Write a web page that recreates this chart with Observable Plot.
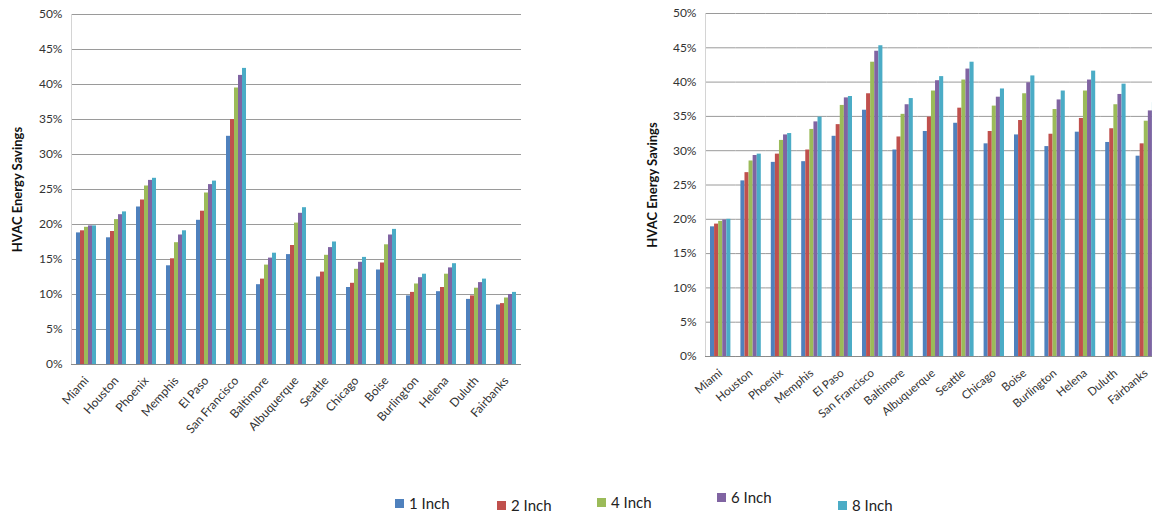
<!DOCTYPE html>
<html>
<head>
<meta charset="utf-8">
<script src="https://cdn.jsdelivr.net/npm/d3@7"></script>
<script src="https://cdn.jsdelivr.net/npm/@observablehq/plot@0.6"></script>
<style>
  body { margin: 0; background: #fff; width: 1152px; height: 515px; overflow: hidden; position: relative; font-family: Lato, "Open Sans", sans-serif; }
  #left { position: absolute; left: 0; top: 0; width: 526px; }
  #right { position: absolute; left: 620px; top: 0; width: 552px; }
  #left svg, #right svg { max-width: none !important; }
  .legend-item { position: absolute; font-size: 15px; color: #222; white-space: nowrap; display: flex; align-items: center; line-height: 1; }
  .swatch { width: 9px; height: 9px; margin-right: 5px; display: inline-block; }
</style>
</head>
<body>
<div id="left"></div>
<div id="right"></div>
<div id="legend"></div>
<script>
// Cities, in the order they appear along both charts
const cities = ["Miami", "Houston", "Phoenix", "Memphis", "El Paso", "San Francisco", "Baltimore",
  "Albuquerque", "Seattle", "Chicago", "Boise", "Burlington", "Helena", "Duluth", "Fairbanks"];

// Insulation thicknesses (series)
const sizes = ["1 Inch", "2 Inch", "4 Inch", "6 Inch", "8 Inch"];
const sizeColors = ["#4F81BD", "#C0504D", "#9BBB59", "#8064A2", "#4BACC6"];

// Percent tick values on the savings axis
const yTicks = [0, 5, 10, 15, 20, 25, 30, 35, 40, 45, 50];

// Left chart: HVAC energy savings (%) by city
const left1 = [18.8, 18.1, 22.5, 14.1, 20.6, 32.6, 11.4, 15.7, 12.5, 11.0, 13.5, 9.8, 10.4, 9.3, 8.5];
const left2 = [19.1, 19.0, 23.5, 15.1, 21.9, 35.0, 12.2, 17.0, 13.2, 11.6, 14.5, 10.3, 11.0, 9.8, 8.7];
const left4 = [19.6, 20.7, 25.5, 17.4, 24.5, 39.5, 14.2, 20.2, 15.6, 13.6, 17.1, 11.5, 12.9, 10.9, 9.5];
const left6 = [19.8, 21.4, 26.3, 18.5, 25.7, 41.3, 15.2, 21.6, 16.7, 14.6, 18.5, 12.4, 13.8, 11.7, 10.0];
const left8 = [19.8, 21.8, 26.6, 19.1, 26.2, 42.3, 15.9, 22.4, 17.5, 15.3, 19.3, 12.9, 14.4, 12.2, 10.3];

// Right chart: HVAC energy savings (%) by city
const right1 = [18.9, 25.6, 28.3, 28.4, 32.1, 35.9, 30.1, 32.8, 34.0, 31.0, 32.3, 30.6, 32.7, 31.2, 29.2];
const right2 = [19.3, 26.8, 29.5, 30.1, 33.8, 38.3, 32.0, 34.9, 36.2, 32.8, 34.4, 32.4, 34.7, 33.2, 31.0];
const right4 = [19.7, 28.5, 31.5, 33.1, 36.6, 42.9, 35.3, 38.7, 40.3, 36.5, 38.3, 36.0, 38.7, 36.7, 34.3];
const right6 = [19.9, 29.3, 32.3, 34.2, 37.7, 44.5, 36.7, 40.2, 41.9, 37.8, 39.9, 37.4, 40.3, 38.2, 35.8];
const right8 = [20.0, 29.5, 32.5, 34.9, 37.9, 45.3, 37.6, 40.8, 42.9, 39.0, 40.9, 38.7, 41.6, 39.7, 37.0];

function toRows(series) {
  return cities.flatMap((city, i) => sizes.map((size, j) => ({city, size, value: series[j][i]})));
}

function savingsChart({rows, marginLeft, marginTop, plotHeight, step, width, tickRotate, labelSize, tickPadding, labelOffset}) {
  const marginBottom = 100;
  const svg = Plot.plot({
    width,
    height: marginTop + plotHeight + marginBottom,
    marginLeft,
    marginRight: width - marginLeft - step * cities.length,
    marginTop,
    marginBottom,
    style: {fontFamily: "Lato, 'Open Sans', sans-serif", fontSize: "12px", color: "#333", background: "white", overflow: "visible"},
    fx: {domain: cities, padding: 0, round: false, axis: null},
    x: {domain: sizes, padding: 0, round: false, inset: 5, axis: null},
    y: {domain: [0, 50], axis: null},
    color: {domain: sizes, range: sizeColors},
    marks: [
      Plot.gridY(yTicks, {stroke: "#9a9a9a", strokeOpacity: 1, strokeWidth: 1}),
      Plot.frame({anchor: "left", facetAnchor: "left", stroke: "#d4d4d4"}),
      Plot.barY(rows, {fx: "city", x: "size", y: "value", fill: "size"}),
      Plot.ruleY([0], {stroke: "#8a8a8a"}),
      Plot.axisY(yTicks, {
        tickSize: 0, tickPadding: 9, tickFormat: d => d + "%", fontSize: 12,
        label: "HVAC Energy Savings", labelAnchor: "center", labelOffset, labelArrow: "none"
      }),
      Plot.axisFx({anchor: "bottom", tickRotate, tickSize: 0, tickPadding, label: null, fontSize: labelSize})
    ]
  });
  // Bold axis title
  d3.select(svg).selectAll('g[aria-label="y-axis label"] text')
    .attr("font-weight", "bold").attr("font-size", 13).attr("fill", "#111");
  return svg;
}

document.getElementById("left").append(savingsChart({
  rows: toRows([left1, left2, left4, left6, left8]),
  marginLeft: 71, marginTop: 14, plotHeight: 350, step: 30, width: 526,
  tickRotate: -48, labelSize: 12, tickPadding: 14, labelOffset: 59
}));

document.getElementById("right").append(savingsChart({
  rows: toRows([right1, right2, right4, right6, right8]),
  marginLeft: 85, marginTop: 13, plotHeight: 343, step: 30.4, width: 552,
  tickRotate: -40, labelSize: 11.5, tickPadding: 15, labelOffset: 58
}));

// Legend below the charts
const legendPlacement = [[395, 496], [497, 498], [597, 495], [717, 490], [838, 498]];
const legend = document.getElementById("legend");
sizes.forEach((size, i) => {
  const item = document.createElement("div");
  item.className = "legend-item";
  item.style.left = legendPlacement[i][0] + "px";
  item.style.top = legendPlacement[i][1] + "px";
  const sw = document.createElement("span");
  sw.className = "swatch";
  sw.style.background = sizeColors[i];
  item.append(sw, document.createTextNode(size));
  legend.append(item);
});
</script>
</body>
</html>
